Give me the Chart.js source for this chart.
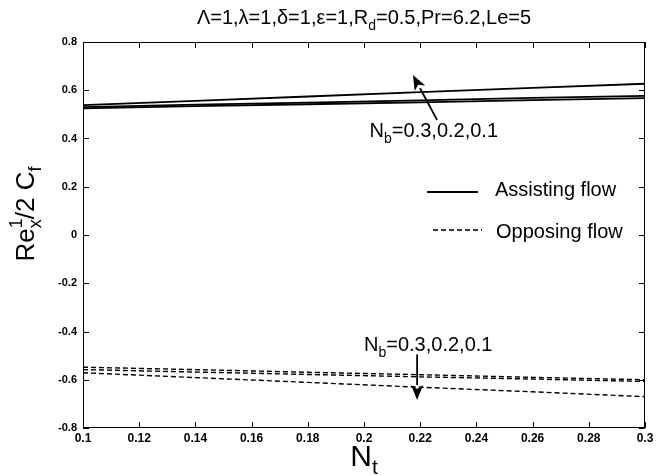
<!DOCTYPE html>
<html lang="en">
<head>
    <meta charset="UTF-8">
    <title>Skin friction vs Nt</title>
    <script src="https://cdn.jsdelivr.net/npm/chart.js"></script>
    <style>
        body {
            margin: 0;
            padding: 0;
            background-color: #fff;
        }
        canvas {
            display: block;
        }
    </style>
</head>
<body>
    <canvas id="cfChart" width="666" height="476"></canvas>

    <script>
        const FONT = '"Liberation Sans", Arial, sans-serif';

        // Nt values along the x axis
        const nt = [0.1, 0.14, 0.18, 0.22, 0.26, 0.3];

        // Assisting flow (solid) for Nb = 0.3, 0.2, 0.1
        const assistNb03 = [0.538, 0.556, 0.574, 0.592, 0.610, 0.627];
        const assistNb02 = [0.530, 0.540, 0.549, 0.558, 0.568, 0.577];
        const assistNb01 = [0.525, 0.534, 0.542, 0.550, 0.559, 0.567];

        // Opposing flow (dashed) for Nb = 0.3, 0.2, 0.1
        const opposeNb03 = [-0.571, -0.591, -0.611, -0.631, -0.650, -0.670];
        const opposeNb02 = [-0.558, -0.568, -0.578, -0.588, -0.597, -0.607];
        const opposeNb01 = [-0.548, -0.558, -0.569, -0.579, -0.590, -0.600];

        const xTickVals = [0.1, 0.12, 0.14, 0.16, 0.18, 0.2, 0.22, 0.24, 0.26, 0.28, 0.3];
        const yTickVals = [-0.8, -0.6, -0.4, -0.2, 0, 0.2, 0.4, 0.6, 0.8];

        function series(values, dashed) {
            return {
                data: nt.map((x, i) => ({ x: x, y: values[i] })),
                borderColor: '#000',
                borderWidth: dashed ? 1.4 : 1.8,
                borderDash: dashed ? [5, 3] : [],
                pointRadius: 0,
                fill: false,
                tension: 0
            };
        }

        // draws a run of text pieces; each piece is [text, size, dy, advance]
        function richText(ctx, parts, x, y, align) {
            let total = 0;
            parts.forEach(p => {
                ctx.font = p[1] + 'px ' + FONT;
                if (p[3] !== false) total += ctx.measureText(p[0]).width;
            });
            let cx = align === 'center' ? x - total / 2 : x;
            ctx.textAlign = 'left';
            ctx.textBaseline = 'alphabetic';
            parts.forEach(p => {
                ctx.font = p[1] + 'px ' + FONT;
                ctx.fillText(p[0], cx, y + p[2]);
                if (p[3] !== false) cx += ctx.measureText(p[0]).width;
            });
        }

        function nbText(ctx, x, y) {
            richText(ctx, [['N', 20, 0], ['b', 14, 6], ['=0.3,0.2,0.1', 20, 0]], x, y, 'left');
        }

        function arrow(ctx, x0, y0, x1, y1) {
            const ang = Math.atan2(y1 - y0, x1 - x0);
            const len = 15, half = 6;
            const bx = x1 - len * Math.cos(ang), by = y1 - len * Math.sin(ang);
            ctx.lineWidth = 1.8;
            ctx.beginPath();
            ctx.moveTo(x0, y0);
            ctx.lineTo(bx, by);
            ctx.stroke();
            ctx.beginPath();
            ctx.moveTo(x1, y1);
            ctx.lineTo(bx + half * Math.sin(ang), by - half * Math.cos(ang));
            ctx.lineTo(bx + 4 * Math.cos(ang), by + 4 * Math.sin(ang));
            ctx.lineTo(bx - half * Math.sin(ang), by + half * Math.cos(ang));
            ctx.closePath();
            ctx.fill();
        }

        const framePlugin = {
            id: 'frame',
            afterDraw(chart) {
                const ctx = chart.ctx;
                const xs = chart.scales.x, ys = chart.scales.y;
                const { left, right, top, bottom } = chart.chartArea;
                ctx.save();
                ctx.strokeStyle = '#000';
                ctx.fillStyle = '#000';
                ctx.lineWidth = 1;

                // axes box with inward ticks on all sides
                ctx.strokeRect(left + 0.5, top + 0.5, right - left - 1, bottom - top - 1);
                ctx.beginPath();
                xTickVals.forEach(v => {
                    const px = Math.round(xs.getPixelForValue(v)) + 0.5;
                    ctx.moveTo(px, bottom); ctx.lineTo(px, bottom - 6);
                    ctx.moveTo(px, top); ctx.lineTo(px, top + 6);
                });
                yTickVals.forEach(v => {
                    const py = Math.round(ys.getPixelForValue(v)) + 0.5;
                    ctx.moveTo(left, py); ctx.lineTo(left + 6, py);
                    ctx.moveTo(right, py); ctx.lineTo(right - 6, py);
                });
                ctx.stroke();

                // title
                richText(ctx, [['\u039b=1,\u03bb=1,\u03b4=1,\u03b5=1,R', 20, 0], ['d', 14, 6], ['=0.5,Pr=6.2,Le=5', 20, 0]],
                    (left + right) / 2, 24, 'center');

                // x axis title
                richText(ctx, [['N', 30, 0], ['t', 21, 8]], (left + right) / 2, 466, 'center');

                // y axis title, rotated
                ctx.save();
                ctx.translate(34, 214);
                ctx.rotate(-Math.PI / 2);
                richText(ctx, [['Re', 26, 0], ['1', 18, -12, false], ['x', 18, 7], ['/2 C', 26, 0], ['f', 18, 7]], 0, 0, 'center');
                ctx.restore();

                // legend
                ctx.lineWidth = 1.8;
                ctx.setLineDash([]);
                ctx.beginPath();
                ctx.moveTo(427, 192); ctx.lineTo(478, 192);
                ctx.stroke();
                ctx.lineWidth = 1.4;
                ctx.setLineDash([5, 3]);
                ctx.beginPath();
                ctx.moveTo(433, 230); ctx.lineTo(482, 230);
                ctx.stroke();
                ctx.setLineDash([]);
                richText(ctx, [['Assisting flow', 20, 0]], 495, 196, 'left');
                richText(ctx, [['Opposing flow', 20, 0]], 496, 238, 'left');

                // Nb annotations with arrows
                nbText(ctx, xs.getPixelForValue(0.202), ys.getPixelForValue(0.405));
                arrow(ctx, xs.getPixelForValue(0.226), ys.getPixelForValue(0.477),
                    xs.getPixelForValue(0.2174), ys.getPixelForValue(0.663));
                nbText(ctx, xs.getPixelForValue(0.2), ys.getPixelForValue(-0.48));
                arrow(ctx, xs.getPixelForValue(0.2189), ys.getPixelForValue(-0.495),
                    xs.getPixelForValue(0.2189), ys.getPixelForValue(-0.684));

                ctx.restore();
            }
        };

        const fmt = v => String(Number(v.toFixed(2)));

        const ctx = document.getElementById('cfChart').getContext('2d');
        new Chart(ctx, {
            type: 'line',
            data: {
                datasets: [
                    series(assistNb03, false),
                    series(assistNb02, false),
                    series(assistNb01, false),
                    series(opposeNb03, true),
                    series(opposeNb02, true),
                    series(opposeNb01, true)
                ]
            },
            options: {
                responsive: false,
                animation: false,
                layout: { padding: { top: 42, right: 21, left: 0, bottom: 0 } },
                plugins: {
                    legend: { display: false },
                    tooltip: { enabled: false }
                },
                scales: {
                    x: {
                        type: 'linear',
                        min: 0.1,
                        max: 0.3,
                        afterBuildTicks: s => { s.ticks = xTickVals.map(v => ({ value: v })); },
                        afterFit: s => { s.height = 48; },
                        ticks: {
                            color: '#000',
                            font: { family: FONT, size: 12, weight: 'bold' },
                            maxRotation: 0,
                            padding: 3,
                            callback: fmt
                        },
                        grid: { display: false, drawTicks: false },
                        border: { display: false }
                    },
                    y: {
                        type: 'linear',
                        min: -0.8,
                        max: 0.8,
                        afterBuildTicks: s => { s.ticks = yTickVals.map(v => ({ value: v })); },
                        afterFit: s => { s.width = 83; },
                        ticks: {
                            color: '#000',
                            font: { family: FONT, size: 11, weight: 'bold' },
                            padding: 6,
                            callback: fmt
                        },
                        grid: { display: false, drawTicks: false },
                        border: { display: false }
                    }
                }
            },
            plugins: [framePlugin]
        });
    </script>
</body>
</html>
